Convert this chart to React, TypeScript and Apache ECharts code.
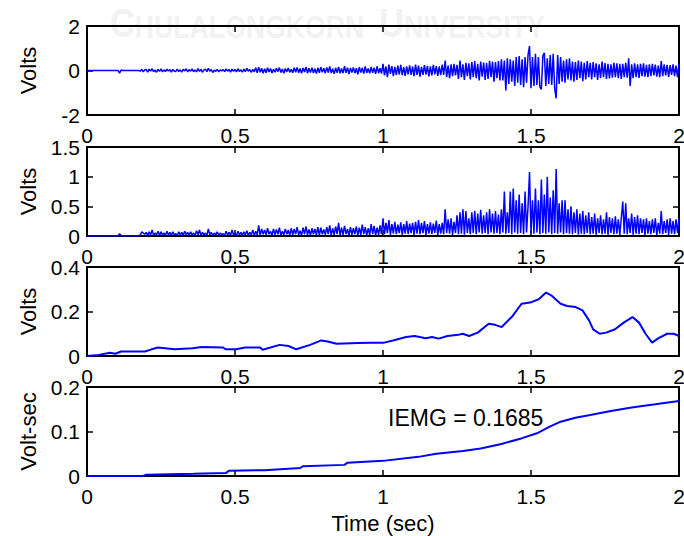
import React, { useEffect, useRef } from "react";
import * as echarts from "echarts";

// ---------- data ----------
const TIME_STEP = 0.005; // seconds between samples of the raw / rectified signals
const X_TICKS = [0, 0.5, 1, 1.5, 2];

// Raw EMG (Volts), one row = 0.1 s (20 samples)
const RAW_EMG = [
  0, 0, 0, 0, 0, 0, 0, 0, 0, 0, 0, 0, 0, 0, 0, 0, 0, 0, 0, 0,
  0, 0, -0.12, 0.02, 0, 0, 0, 0, 0, 0, 0, 0, 0, 0, 0, 0, -0.03, 0.05, -0.06, 0.03,
  0.04, -0.07, 0.06, -0.03, 0.08, -0.05, 0.02, -0.08, 0.05, -0.04, 0.07, -0.06, 0.03, -0.05, 0.06, -0.02, 0.04, -0.07, 0.05, -0.03,
  -0.04, 0.06, -0.05, 0.03, -0.07, 0.05, -0.02, 0.08, -0.06, 0.04, -0.03, 0.07, -0.05, 0.02, -0.06, 0.09, -0.04, 0.05, -0.08, 0.03,
  0.06, -0.05, 0.1, -0.03, 0.04, -0.09, 0.02, -0.04, 0.05, -0.06, 0.03, -0.02, 0.04, -0.05, 0.07, -0.03, 0.05, -0.08, 0.06, -0.04,
  0.05, -0.06, 0.08, -0.04, 0.03, -0.07, 0.06, -0.05, 0.1, -0.03, 0.04, -0.08, 0.05, -0.06, 0.12, -0.1, 0.15, -0.08, 0.1, -0.12,
  0.08, -0.1, 0.12, -0.07, 0.09, -0.11, 0.06, -0.08, 0.1, -0.05, 0.13, -0.09, 0.07, -0.12, 0.09, -0.06, 0.11, -0.08, 0.05, -0.1,
  0.12, -0.08, 0.14, -0.1, 0.09, -0.13, 0.11, -0.07, 0.16, -0.12, 0.1, -0.09, 0.13, -0.11, 0.08, -0.14, 0.12, -0.1, 0.15, -0.08,
  0.1, -0.12, 0.14, -0.09, 0.18, -0.11, 0.08, -0.15, 0.12, -0.1, 0.16, -0.13, 0.09, -0.12, 0.2, -0.1, 0.13, -0.16, 0.11, -0.09,
  0.14, -0.12, 0.1, -0.17, 0.15, -0.09, 0.12, -0.14, 0.18, -0.11, 0.09, -0.13, 0.16, -0.1, 0.12, -0.15, 0.19, -0.12, 0.1, -0.14,
  0.3, -0.22, 0.18, -0.3, 0.27, -0.15, 0.2, -0.25, 0.16, -0.2, 0.22, -0.18, 0.25, -0.21, 0.15, -0.24, 0.19, -0.17, 0.23, -0.2,
  0.18, -0.25, 0.27, -0.2, 0.22, -0.28, 0.16, -0.2, 0.24, -0.18, 0.21, -0.26, 0.19, -0.22, 0.25, -0.17, 0.2, -0.24, 0.18, -0.21,
  0.26, -0.2, 0.45, -0.3, 0.22, -0.35, 0.28, -0.25, 0.3, -0.22, 0.25, -0.38, 0.45, -0.3, 0.28, -0.42, 0.35, -0.25, 0.32, -0.4,
  0.38, -0.3, 0.42, -0.35, 0.3, -0.45, 0.4, -0.28, 0.36, -0.42, 0.33, -0.38, 0.44, -0.3, 0.4, -0.5, 0.38, -0.35, 0.42, -0.45,
  0.5, -0.45, 0.45, -0.9, 0.55, -0.6, 0.5, -0.5, 0.45, -0.7, 0.6, -0.55, 0.65, -0.65, 0.5, -0.75, 0.6, -0.55, 0.7, 1.1,
  -0.8, 0.6, -0.7, 0.75, -0.65, 0.6, -0.75, -0.85, 0.65, 0.8, -0.7, 0.55, -0.6, 0.7, -0.65, 0.75, -0.8, -1.25, 0.7, -0.6,
  0.6, -0.5, 0.45, -0.55, 0.5, -0.4, 0.55, -0.45, 0.4, -0.5, 0.38, -0.42, 0.45, -0.35, 0.4, -0.48, 0.35, -0.4, 0.42, -0.3,
  0.35, -0.4, 0.38, -0.3, 0.32, -0.42, 0.28, -0.35, 0.4, -0.3, 0.33, -0.38, 0.3, -0.36, 0.28, -0.32, 0.35, -0.3, 0.32, -0.35,
  0.3, -0.38, 0.3, -0.3, 0.35, -0.32, 0.55, -0.7, 0.28, -0.35, 0.32, -0.3, 0.28, -0.33, 0.3, -0.26, 0.32, -0.28, 0.25, -0.3,
  0.28, -0.25, 0.3, -0.22, 0.26, -0.28, 0.22, -0.3, 0.42, -0.25, 0.28, -0.22, 0.25, -0.3, 0.24, -0.2, 0.28, -0.25, 0.22, -0.3,
  0.3,
];

// Full-wave rectified EMG (Volts), one row = 0.1 s
const RECTIFIED_EMG = [
  0, 0, 0, 0, 0, 0, 0, 0, 0, 0, 0, 0, 0, 0, 0, 0, 0, 0, 0, 0,
  0, 0, 0.04, 0.01, 0, 0, 0, 0, 0, 0, 0, 0, 0, 0, 0, 0, 0.02, 0.07, 0.05, 0.03,
  0.06, 0.01, 0.07, 0.02, 0.1, 0.01, 0.05, 0.02, 0.08, 0.01, 0.07, 0.02, 0.05, 0.01, 0.08, 0.02, 0.06, 0.01, 0.07, 0.02,
  0.04, 0.01, 0.07, 0.02, 0.06, 0.01, 0.08, 0.02, 0.06, 0.01, 0.07, 0.02, 0.05, 0.01, 0.09, 0.02, 0.1, 0.01, 0.06, 0.02,
  0.05, 0.01, 0.12, 0.02, 0.06, 0.01, 0.05, 0.02, 0.07, 0.01, 0.05, 0.02, 0.04, 0.01, 0.08, 0.02, 0.06, 0.01, 0.1, 0.02,
  0.05, 0.01, 0.08, 0.02, 0.06, 0.01, 0.07, 0.02, 0.09, 0.01, 0.06, 0.02, 0.1, 0.01, 0.08, 0.02, 0.18, 0.01, 0.12, 0.03,
  0.1, 0.02, 0.13, 0.03, 0.08, 0.01, 0.12, 0.02, 0.11, 0.03, 0.14, 0.01, 0.08, 0.02, 0.12, 0.03, 0.1, 0.01, 0.13, 0.02,
  0.12, 0.03, 0.15, 0.02, 0.09, 0.01, 0.14, 0.03, 0.16, 0.02, 0.11, 0.01, 0.13, 0.03, 0.12, 0.02, 0.15, 0.01, 0.14, 0.03,
  0.11, 0.02, 0.15, 0.03, 0.18, 0.01, 0.13, 0.02, 0.16, 0.03, 0.22, 0.01, 0.14, 0.02, 0.17, 0.03, 0.12, 0.01, 0.15, 0.02,
  0.13, 0.03, 0.16, 0.01, 0.14, 0.02, 0.19, 0.03, 0.15, 0.01, 0.13, 0.02, 0.2, 0.03, 0.17, 0.01, 0.14, 0.02, 0.18, 0.03,
  0.3, 0.03, 0.22, 0.05, 0.27, 0.02, 0.2, 0.04, 0.24, 0.03, 0.19, 0.05, 0.23, 0.02, 0.2, 0.04, 0.25, 0.03, 0.21, 0.05,
  0.22, 0.02, 0.24, 0.04, 0.27, 0.03, 0.22, 0.05, 0.25, 0.02, 0.2, 0.04, 0.23, 0.03, 0.21, 0.05, 0.26, 0.02, 0.2, 0.04,
  0.22, 0.03, 0.45, 0.05, 0.28, 0.04, 0.3, 0.02, 0.24, 0.05, 0.35, 0.03, 0.4, 0.04, 0.45, 0.02, 0.42, 0.05, 0.3, 0.03,
  0.4, 0.05, 0.42, 0.03, 0.38, 0.06, 0.44, 0.04, 0.35, 0.05, 0.4, 0.03, 0.45, 0.06, 0.38, 0.04, 0.42, 0.05, 0.36, 0.03,
  0.45, 0.06, 0.75, 0.04, 0.4, 0.05, 0.75, 0.03, 0.8, 0.06, 0.6, 0.04, 0.7, 0.05, 0.55, 0.03, 0.75, 0.06, 0.5, 1.08,
  0.05, 0.6, 0.04, 0.8, 0.06, 0.6, 0.03, 0.95, 0.05, 0.7, 0.04, 1.0, 0.06, 0.65, 0.03, 0.77, 0.05, 1.13, 0.04, 0.55,
  0.06, 0.6, 0.03, 0.6, 0.05, 0.45, 0.04, 0.5, 0.03, 0.4, 0.05, 0.45, 0.02, 0.38, 0.04, 0.42, 0.03, 0.35, 0.05, 0.4,
  0.03, 0.32, 0.04, 0.38, 0.02, 0.3, 0.05, 0.35, 0.03, 0.28, 0.04, 0.4, 0.02, 0.32, 0.05, 0.3, 0.03, 0.33, 0.04, 0.28,
  0.02, 0.3, 0.58, 0.04, 0.55, 0.03, 0.3, 0.05, 0.38, 0.02, 0.32, 0.04, 0.35, 0.03, 0.3, 0.05, 0.28, 0.02, 0.3, 0.04,
  0.25, 0.03, 0.28, 0.05, 0.3, 0.02, 0.22, 0.04, 0.42, 0.03, 0.25, 0.05, 0.28, 0.02, 0.3, 0.04, 0.25, 0.03, 0.28, 0.05,
  0.3,
];

// Smoothed (linear envelope) EMG: [time s, Volts]
const ENVELOPE = [
  [0, 0], [0.04, 0.005], [0.078, 0.015], [0.096, 0.01], [0.115, 0.02], [0.196, 0.02],
  [0.218, 0.03], [0.24, 0.038], [0.296, 0.03], [0.357, 0.035], [0.387, 0.04], [0.46, 0.038],
  [0.468, 0.03], [0.504, 0.03], [0.534, 0.038], [0.585, 0.038], [0.593, 0.028], [0.651, 0.05],
  [0.681, 0.045], [0.707, 0.03], [0.754, 0.05], [0.791, 0.07], [0.813, 0.065], [0.843, 0.055],
  [0.916, 0.058], [0.96, 0.06], [1.004, 0.06], [1.034, 0.07], [1.078, 0.085], [1.107, 0.09],
  [1.144, 0.08], [1.166, 0.085], [1.188, 0.078], [1.218, 0.09], [1.254, 0.095], [1.269, 0.1],
  [1.291, 0.09], [1.32, 0.105], [1.357, 0.145], [1.379, 0.14], [1.401, 0.13], [1.438, 0.18],
  [1.468, 0.235], [1.497, 0.24], [1.526, 0.255], [1.551, 0.285], [1.571, 0.27], [1.6, 0.235],
  [1.622, 0.225], [1.651, 0.22], [1.674, 0.205], [1.696, 0.16], [1.71, 0.12], [1.732, 0.1],
  [1.754, 0.105], [1.784, 0.12], [1.813, 0.15], [1.843, 0.175], [1.865, 0.15], [1.887, 0.1],
  [1.909, 0.06], [1.931, 0.08], [1.96, 0.1], [1.982, 0.1], [2.0, 0.09],
];

// Integrated EMG: [time s, Volt-sec]
const INTEGRATED = [
  [0, 0], [0.19, 0], [0.2, 0.003], [0.36, 0.005], [0.47, 0.007], [0.48, 0.012],
  [0.6, 0.013], [0.72, 0.018], [0.73, 0.022], [0.87, 0.025], [0.88, 0.03], [1.0, 0.034],
  [1.12, 0.043], [1.18, 0.05], [1.27, 0.056], [1.33, 0.062], [1.4, 0.072], [1.47, 0.085],
  [1.52, 0.096], [1.56, 0.11], [1.6, 0.122], [1.65, 0.131], [1.7, 0.137], [1.77, 0.146],
  [1.84, 0.154], [1.92, 0.161], [2.0, 0.1685],
];

const Y_NAMES = ["Volts", "Volts", "Volts", "Volt-sec"];
const Y_RANGES = [
  [-2, 2, 2],
  [0, 1.5, 0.5],
  [0, 0.4, 0.2],
  [0, 0.2, 0.1],
];
const X_NAME = "Time (sec)";
const IEMG_LABEL = "IEMG = 0.1685";

// ---------- layout / style ----------
const FONT = '"Liberation Sans", Arial, Helvetica, sans-serif';
const PANEL_TOPS = [26, 147, 267, 387];
const PANEL_HEIGHT = 89;
const PANEL_LEFT = 87;
const PANEL_WIDTH = 592;
const LINE_WIDTHS = [1.5, 1.5, 2, 2];
const BLUE = "#0000ff";

function buildOption() {
  const sampled = (arr: number[]) => arr.map((v, i) => [i * TIME_STEP, v]);
  const panelData = [sampled(RAW_EMG), sampled(RECTIFIED_EMG), ENVELOPE, INTEGRATED];

  const grids = PANEL_TOPS.map((top) => ({
    left: PANEL_LEFT,
    top,
    width: PANEL_WIDTH,
    height: PANEL_HEIGHT,
    containLabel: false,
    outerBoundsMode: "none",
  }));

  const axisLine = { show: true, onZero: false, lineStyle: { color: "#000", width: 2 } };
  const axisTick = { show: true, inside: true, length: 6, lineStyle: { color: "#000", width: 1.5 } };
  const labelStyle = { color: "#000", fontSize: 21, fontFamily: FONT };

  const xAxes: any[] = [];
  const yAxes: any[] = [];
  for (let i = 0; i < 4; i++) {
    const common = {
      type: "value",
      gridIndex: i,
      min: X_TICKS[0],
      max: X_TICKS[X_TICKS.length - 1],
      interval: X_TICKS[1] - X_TICKS[0],
      axisLine,
      axisTick,
      splitLine: { show: false },
    };
    xAxes.push({
      ...common,
      position: "bottom",
      axisLabel: { ...labelStyle, margin: 10, showMinLabel: true, showMaxLabel: true, hideOverlap: false },
      name: i === 3 ? X_NAME : "",
      nameLocation: "middle",
      nameGap: 36,
      nameTextStyle: { color: "#000", fontSize: 22, fontFamily: FONT },
    });
    xAxes.push({ ...common, position: "top", axisLabel: { show: false } });

    const [ymin, ymax, ystep] = Y_RANGES[i];
    const ycommon = {
      type: "value",
      gridIndex: i,
      min: ymin,
      max: ymax,
      interval: ystep,
      axisLine,
      axisTick,
      splitLine: { show: false },
    };
    yAxes.push({
      ...ycommon,
      position: "left",
      axisLabel: { ...labelStyle, margin: 7, showMinLabel: true, showMaxLabel: true, hideOverlap: false },
      name: Y_NAMES[i],
      nameLocation: "middle",
      nameGap: 48,
      nameTextStyle: { color: "#000", fontSize: 22, fontFamily: FONT },
    });
    yAxes.push({ ...ycommon, position: "right", axisLabel: { show: false } });
  }

  const series = panelData.map((data, i) => ({
    type: "line",
    xAxisIndex: 2 * i,
    yAxisIndex: 2 * i,
    data,
    showSymbol: false,
    symbol: "none",
    silent: true,
    clip: true,
    lineStyle: { color: BLUE, width: LINE_WIDTHS[i] },
    itemStyle: { color: BLUE },
    z: 3,
  }));

  const wmFont = '"Liberation Sans", Arial, sans-serif';
  const wmColor = "#f2f2f2";
  const graphic = [
    {
      type: "text",
      x: 110,
      y: 43,
      scaleX: 0.86,
      z: -10,
      silent: true,
      style: {
        text: "{b|C}{s|HULALONGKORN\u00a0\u00a0}{b|U}{s|NIVERSITY}",
        textVerticalAlign: "bottom",
        fill: wmColor,
        rich: {
          b: { fontSize: 40, fontWeight: "bold", fontFamily: wmFont, fill: wmColor, verticalAlign: "bottom" },
          s: { fontSize: 31, fontWeight: "bold", fontFamily: wmFont, fill: wmColor, verticalAlign: "bottom" },
        },
      },
    },
    {
      type: "text",
      x: 388,
      y: 418,
      z: 10,
      silent: true,
      style: {
        text: IEMG_LABEL,
        fill: "#000",
        fontSize: 23,
        fontFamily: FONT,
        textVerticalAlign: "middle",
      },
    },
  ];

  return {
    animation: false,
    backgroundColor: "#ffffff",
    grid: grids,
    xAxis: xAxes,
    yAxis: yAxes,
    series,
    graphic,
  };
}

export default function App() {
  const ref = useRef<HTMLDivElement>(null);
  useEffect(() => {
    if (!ref.current) return;
    const chart = echarts.init(ref.current, null, { renderer: "svg" });
    chart.setOption(buildOption() as any);
    return () => chart.dispose();
  }, []);
  return (
    <div
      ref={ref}
      style={{ position: "fixed", left: 0, top: 0, width: 684, height: 536, background: "#fff" }}
    />
  );
}
